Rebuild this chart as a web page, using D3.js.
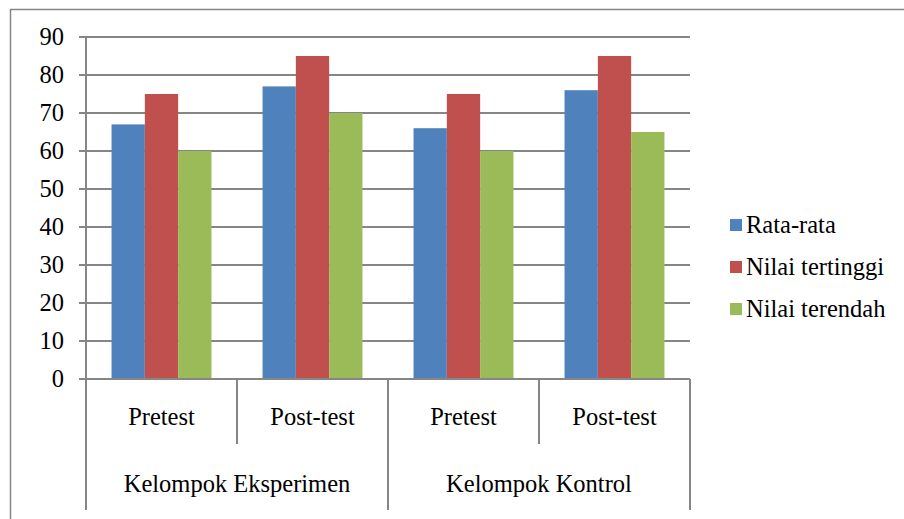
<!DOCTYPE html>
<html>
<head>
<meta charset="utf-8">
<script src="https://cdn.jsdelivr.net/npm/d3@7"></script>
<style>
  html, body { margin: 0; padding: 0; background: #fff; }
  svg { display: block; }
</style>
</head>
<body>
<svg id="chart" width="904" height="519"></svg>
<script>
// Groups and tests along the x axis
const groups = ["Kelompok Eksperimen", "Kelompok Kontrol"];
const tests = ["Pretest", "Post-test"];
const categories = ["Pretest|E", "Post-test|E", "Pretest|K", "Post-test|K"];

// Series
const seriesNames = ["Rata-rata", "Nilai tertinggi", "Nilai terendah"];
const rataRata = [67, 77, 66, 76];
const nilaiTertinggi = [75, 85, 75, 85];
const nilaiTerendah = [60, 70, 60, 65];
const colors = ["#4F81BD", "#C0504D", "#9BBB59"];

const yTicks = [0, 10, 20, 30, 40, 50, 60, 70, 80, 90];

const FONT = "'Liberation Serif', 'DejaVu Serif', 'Times New Roman', serif";
const FS = 24.5;
const svg = d3.select("#chart").attr("font-family", FONT);
const gridColor = "#868686";

const margin = { left: 86, right: 690, top: 37, bottom: 379 };

// Outer frame
svg.append("path")
  .attr("d", "M10.5,520 V9.5 H905")
  .attr("fill", "none")
  .attr("stroke", gridColor)
  .attr("stroke-width", 1.5);

const x = d3.scaleBand().domain(categories).range([margin.left, margin.right]).paddingInner(0).paddingOuter(0);
const y = d3.scaleLinear().domain([0, 90]).range([margin.bottom, margin.top]);
const inner = d3.scaleBand().domain(seriesNames).range([0, x.bandwidth()]).paddingInner(0).paddingOuter(0.767);

// Horizontal gridlines
svg.append("g").selectAll("line").data(yTicks).join("line")
  .attr("x1", margin.left - 7).attr("x2", margin.right)
  .attr("y1", d => y(d)).attr("y2", d => y(d))
  .attr("stroke", gridColor).attr("stroke-width", 2);

// Y axis line
svg.append("line")
  .attr("x1", margin.left).attr("x2", margin.left)
  .attr("y1", margin.top).attr("y2", 510)
  .attr("stroke", gridColor).attr("stroke-width", 2);

// Y tick labels
svg.append("g").selectAll("text").data(yTicks).join("text")
  .attr("x", 64).attr("y", d => y(d))
  .attr("dy", "0.33em")
  .attr("text-anchor", "end")
  .attr("font-size", FS)
  .attr("font-family", FONT)
  .text(d => d);

// Bars
const seriesData = [rataRata, nilaiTertinggi, nilaiTerendah];
seriesData.forEach((vals, si) => {
  svg.append("g").selectAll("rect").data(vals).join("rect")
    .attr("x", (d, i) => x(categories[i]) + inner(seriesNames[si]))
    .attr("width", inner.bandwidth())
    .attr("y", d => y(d))
    .attr("height", d => y(0) - y(d))
    .attr("fill", colors[si]);
});

// Zero line on top of bars
svg.append("line")
  .attr("x1", margin.left - 7).attr("x2", margin.right)
  .attr("y1", y(0)).attr("y2", y(0))
  .attr("stroke", gridColor).attr("stroke-width", 2);

// Category separators
const sepG = svg.append("g");
categories.forEach((c, i) => {
  if (i % 2 === 0) {
    const xs = x(c) + x.bandwidth();
    sepG.append("line").attr("x1", xs).attr("x2", xs).attr("y1", y(0)).attr("y2", 444)
      .attr("stroke", gridColor).attr("stroke-width", 2);
  }
});
[margin.left + x.bandwidth() * 2, margin.right].forEach(xs => {
  sepG.append("line").attr("x1", xs).attr("x2", xs).attr("y1", y(0)).attr("y2", 510)
    .attr("stroke", gridColor).attr("stroke-width", 2);
});

// Test labels
svg.append("g").selectAll("text").data(categories).join("text")
  .attr("x", d => x(d) + x.bandwidth() / 2)
  .attr("y", 425)
  .attr("text-anchor", "middle")
  .attr("font-size", FS)
  .attr("font-family", FONT)
  .text(d => d.split("|")[0]);

// Group labels
svg.append("g").selectAll("text").data(groups).join("text")
  .attr("x", (d, i) => margin.left + x.bandwidth() * (2 * i + 1))
  .attr("y", 492)
  .attr("text-anchor", "middle")
  .attr("font-size", FS)
  .attr("font-family", FONT)
  .text(d => d);

// Legend
const legend = svg.append("g");
seriesNames.forEach((s, i) => {
  const cy = 225 + i * 42;
  legend.append("rect").attr("x", 730).attr("y", cy - 6).attr("width", 12).attr("height", 12).attr("fill", colors[i]);
  legend.append("text").attr("x", 746).attr("y", cy).attr("dy", "0.33em")
    .attr("font-size", FS).attr("font-family", FONT).text(s);
});
</script>
</body>
</html>
